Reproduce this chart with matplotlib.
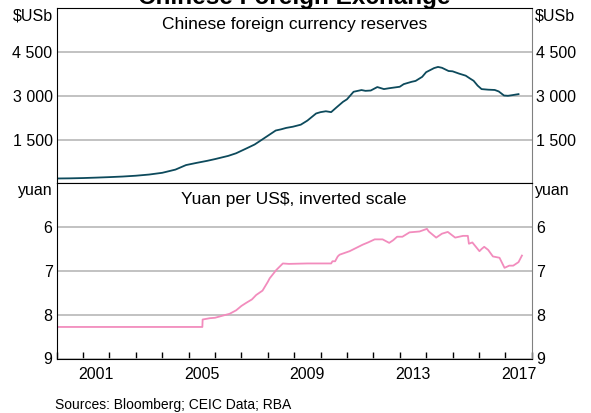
import matplotlib
matplotlib.use('Agg')
import matplotlib.pyplot as plt
from matplotlib.ticker import FixedLocator, FuncFormatter, NullFormatter

plt.rcParams['font.family'] = ['Liberation Sans', 'DejaVu Sans']

# Chinese foreign currency reserves, $US billion
res_years = [2000.0, 2000.5, 2001.0, 2001.5, 2002.0, 2002.5, 2003.0, 2003.5, 2004.0,
             2004.5, 2004.9, 2005.3, 2005.7, 2006.0, 2006.5, 2006.8, 2007.2, 2007.5,
             2007.8, 2008.3, 2008.5, 2008.7, 2008.95, 2009.25, 2009.5, 2009.83,
             2010.0, 2010.2, 2010.4, 2010.6, 2010.85, 2011.0, 2011.25, 2011.55,
             2011.7, 2011.9, 2012.15, 2012.4, 2012.6, 2012.8, 2013.0, 2013.15,
             2013.3, 2013.45, 2013.6, 2013.85, 2014.0, 2014.3, 2014.45, 2014.6,
             2014.85, 2015.0, 2015.25, 2015.5, 2015.65, 2015.8, 2015.95, 2016.1,
             2016.35, 2016.6, 2016.75, 2016.95, 2017.1, 2017.25, 2017.5]
reserves = [165, 170, 180, 195, 212, 232, 260, 300, 360,
            470, 625, 700, 770, 830, 940, 1030, 1200, 1330,
            1509, 1810, 1850, 1900, 1940, 2010, 2150, 2394,
            2440, 2470, 2440, 2600, 2794, 2880, 3138, 3197,
            3170, 3181, 3300, 3230, 3260, 3285, 3310, 3400,
            3440, 3480, 3510, 3650, 3810, 3950, 3990, 3960,
            3850, 3840, 3760, 3690, 3600, 3514, 3350, 3230,
            3210, 3200, 3150, 3010, 3000, 3020, 3057]

# Yuan per US$
cny_years = [2000.0, 2005.52, 2005.53, 2005.8, 2006.0, 2006.3, 2006.55, 2006.8,
             2007.0, 2007.18, 2007.4, 2007.56, 2007.8, 2008.0, 2008.07, 2008.32,
             2008.57, 2008.8, 2009.5, 2010.0, 2010.4, 2010.45, 2010.55, 2010.65,
             2010.72, 2011.1, 2011.6, 2011.8, 2012.05, 2012.35, 2012.6, 2012.75,
             2012.9, 2013.1, 2013.37, 2013.75, 2014.03, 2014.1, 2014.38, 2014.6,
             2014.82, 2015.1, 2015.4, 2015.58, 2015.62, 2015.75, 2016.02, 2016.1,
             2016.2, 2016.35, 2016.53, 2016.78, 2016.97, 2017.15, 2017.3, 2017.5,
             2017.63]
yuan = [8.28, 8.28, 8.11, 8.08, 8.07, 8.02, 7.98, 7.90,
        7.80, 7.73, 7.65, 7.55, 7.45, 7.25, 7.17, 6.98,
        6.83, 6.84, 6.83, 6.83, 6.83, 6.78, 6.78, 6.67,
        6.63, 6.55, 6.40, 6.35, 6.28, 6.28, 6.36, 6.30,
        6.22, 6.22, 6.12, 6.10, 6.04, 6.10, 6.24, 6.15,
        6.11, 6.24, 6.20, 6.20, 6.38, 6.35, 6.55, 6.50,
        6.45, 6.52, 6.67, 6.70, 6.93, 6.88, 6.88, 6.80,
        6.65]

year_ticks = list(range(2000, 2019))
year_labels = [2001, 2005, 2009, 2013, 2017]

W, H = 591, 413
fig = plt.figure(figsize=(W / 100, H / 100), dpi=100)

left = 56.7 / W
width = (531.7 - 56.7) / W
ax1 = fig.add_axes([left, 1 - 183.3 / H, width, (183.3 - 8.3) / H])
ax2 = fig.add_axes([left, 1 - 358.5 / H, width, (358.5 - 183.3) / H])

grid_col = '#b8b8b8'
fs = 11.5
title_fs = 12.5


def thousands(v, pos):
    return f'{int(v):,}'.replace(',', ' ')


def style_panel(ax, ylim, yticks, unit, fmt):
    ax.set_xlim(2000, 2018)
    ax.set_ylim(*ylim)
    ax.set_yticks(yticks)
    ax.yaxis.set_major_formatter(FuncFormatter(fmt))
    ax.tick_params(axis='y', length=0, labelsize=fs, pad=3,
                   left=True, right=True, labelleft=True, labelright=True)
    ax.grid(axis='y', color=grid_col, linewidth=1.2)
    ax.set_axisbelow(True)
    for side in ['left', 'top', 'bottom']:
        ax.spines[side].set_color('black')
    ax.spines['right'].set_color('#808080')
    ax.text(-0.008, 1.0, unit, transform=ax.transAxes, ha='right', va='top', fontsize=fs)
    ax.text(1.006, 1.0, unit, transform=ax.transAxes, ha='left', va='top', fontsize=fs)


# top panel: reserves
style_panel(ax1, (0, 6000), [1500, 3000, 4500], '$USb', thousands)
ax1.plot(res_years, reserves, color='#0d4a5c', linewidth=1.3)
ax1.tick_params(axis='x', bottom=False, labelbottom=False)
ax1.text(0.5, (183.3 - 28.5) / 175, 'Chinese foreign currency reserves', transform=ax1.transAxes,
         ha='center', va='baseline', fontsize=title_fs)

# bottom panel: yuan, inverted scale
style_panel(ax2, (9, 5), [6, 7, 8, 9], 'yuan', lambda v, p: f'{v:g}')
ax2.plot(cny_years, yuan, color='#f28cbd', linewidth=1.3)
ax2.xaxis.set_major_locator(FixedLocator(year_ticks))
ax2.xaxis.set_major_formatter(NullFormatter())
ax2.xaxis.set_minor_locator(FixedLocator([y + 0.5 for y in year_labels]))
ax2.xaxis.set_minor_formatter(FuncFormatter(lambda v, p: str(int(v))))
ax2.tick_params(axis='x', which='major', direction='in', length=5, color='black', width=1)
ax2.tick_params(axis='x', which='minor', length=0, labelsize=fs, pad=6)
ax2.text(0.5, 0.91, 'Yuan per US$, inverted scale', transform=ax2.transAxes,
         ha='center', va='center', fontsize=title_fs)

# title, cut off at the top edge as in the source
fig.text(0.498, 1 - 4 / H, 'Chinese Foreign Exchange', ha='center', va='baseline',
         fontsize=17.5, fontweight='bold')
fig.text(55 / W, 1 - 409 / H, 'Sources: Bloomberg; CEIC Data; RBA', ha='left',
         va='baseline', fontsize=10)

fig.savefig('out.png', dpi=100)
